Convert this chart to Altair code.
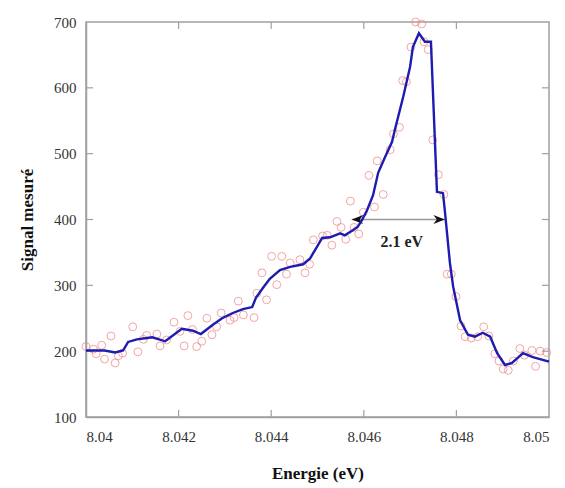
import altair as alt
import pandas as pd

# measured points (open circles)
energie_mes = [8.04000, 8.04016, 8.04022, 8.04034, 8.04040, 8.04054, 8.04063, 8.04070, 8.04079, 8.04101,
               8.04112, 8.04124, 8.04131, 8.04153, 8.04160, 8.04174, 8.04190, 8.04203, 8.04212, 8.04220,
               8.04230, 8.04239, 8.04250, 8.04261, 8.04272, 8.04282, 8.04292, 8.04311, 8.04320, 8.04329,
               8.04340, 8.04363, 8.04369, 8.04380, 8.04390, 8.04401, 8.04412, 8.04423, 8.04433, 8.04441,
               8.04462, 8.04473, 8.04483, 8.04491, 8.04511, 8.04521, 8.04531, 8.04542, 8.04551, 8.04561,
               8.04571, 8.04579, 8.04589, 8.04599, 8.04611, 8.04623, 8.04629, 8.04642, 8.04657, 8.04664,
               8.04677, 8.04684, 8.04692, 8.04702, 8.04712, 8.04725, 8.04730, 8.04739, 8.04749, 8.04761,
               8.04773, 8.04780, 8.04789, 8.04799, 8.04810, 8.04819, 8.04832, 8.04846, 8.04859, 8.04870,
               8.04883, 8.04892, 8.04901, 8.04912, 8.04923, 8.04937, 8.04947, 8.04963, 8.04971, 8.04981,
               8.04995]
signal_mes = [207, 203, 196, 209, 188, 223, 182, 193, 197, 237,
              199, 218, 224, 226, 208, 217, 244, 230, 208, 254,
              233, 207, 215, 250, 225, 237, 258, 247, 251, 276,
              255, 251, 288, 319, 278, 344, 301, 344, 317, 334,
              339, 319, 332, 369, 375, 376, 361, 397, 388, 370,
              428, 388, 378, 411, 467, 419, 489, 438, 506, 530,
              540, 611, 609, 662, 700, 697, 670, 658, 521, 468,
              438, 317, 317, 283, 238, 222, 220, 222, 237, 223,
              196, 185, 173, 171, 185, 204, 194, 201, 177, 200,
              198]

# fitted curve (blue line)
energie_fit = [8.04000, 8.04040, 8.04063, 8.04080, 8.04091, 8.04110, 8.04143, 8.04171, 8.04207, 8.04231,
               8.04248, 8.04274, 8.04294, 8.04317, 8.04339, 8.04359, 8.04367, 8.04382, 8.04397, 8.04419,
               8.04441, 8.04469, 8.04484, 8.04501, 8.04510, 8.04527, 8.04549, 8.04559, 8.04577, 8.04587,
               8.04596, 8.04607, 8.04620, 8.04631, 8.04646, 8.04661, 8.04667, 8.04685, 8.04700, 8.04706,
               8.04719, 8.04732, 8.04745, 8.04758, 8.04771, 8.04775, 8.04786, 8.04793, 8.04808, 8.04825,
               8.04840, 8.04857, 8.04873, 8.04888, 8.04905, 8.04920, 8.04944, 8.04965, 8.05000]
signal_fit = [201, 201, 198, 201, 214, 218, 221, 215, 234, 231,
              226, 240, 250, 258, 264, 267, 281, 296, 310, 323,
              328, 332, 341, 361, 372, 373, 379, 376, 384, 389,
              399, 414, 437, 471, 495, 518, 536, 586, 632, 662,
              683, 670, 670, 442, 440, 414, 334, 298, 247, 225,
              222, 228, 222, 197, 179, 182, 197, 191, 184]

x_ticks = [8.04, 8.042, 8.044, 8.046, 8.048, 8.05]
y_ticks = [100, 200, 300, 400, 500, 600, 700]
x_inner = [8.042, 8.044, 8.046, 8.048]
y_inner = [200, 300, 400, 500, 600]

fwhm_left, fwhm_right, fwhm_level = 8.04574, 8.04775, 400
fwhm_label = "2.1 eV"
label_x, label_y = 8.04682, 366

W, H = 463, 395
FONT = "Liberation Serif"
AX = "#a0a0a0"

xs = alt.Scale(domain=[8.04, 8.05], nice=False, zero=False)
ys = alt.Scale(domain=[100, 700], nice=False, zero=False)

mes = pd.DataFrame({"E": energie_mes, "S": signal_mes})
fit = pd.DataFrame({"E": energie_fit, "S": signal_fit})

xaxis = alt.Axis(values=x_ticks, format=".4~f", ticks=False, grid=False, domainColor=AX,
                 domainWidth=1.5, labelFont=FONT, labelFontSize=15, labelColor="#333",
                 labelPadding=12, title="Energie (eV)", titleFont=FONT, titleFontSize=17,
                 titleFontWeight="bold", titleColor="#111", titleY=56, titleBaseline="middle")
yaxis = alt.Axis(values=y_ticks, ticks=False, grid=False, domainColor=AX, domainWidth=1.5,
                 labelFont=FONT, labelFontSize=15, labelColor="#333", labelPadding=10,
                 title="Signal mesuré", titleFont=FONT, titleFontSize=17, titleFontWeight="bold",
                 titleColor="#111", titleX=-59, titleY=H / 2, titleAngle=-90,
                 titleAlign="center", titleBaseline="middle")

points = alt.Chart(mes).mark_point(shape="circle", filled=False, color="#ee8080",
                                   size=62, strokeWidth=1).encode(
    x=alt.X("E:Q", scale=xs, axis=xaxis),
    y=alt.Y("S:Q", scale=ys, axis=yaxis),
)

line = alt.Chart(fit).mark_line(color="#1c1cb0", strokeWidth=2.4).encode(
    x=alt.X("E:Q", scale=xs), y=alt.Y("S:Q", scale=ys)
)

xt = pd.DataFrame({"E": x_inner})
yt = pd.DataFrame({"S": y_inner})
tick_bot = alt.Chart(xt).mark_rule(color=AX, strokeWidth=1.2).encode(
    x=alt.X("E:Q", scale=xs), y=alt.value(H), y2=alt.value(H - 7))
tick_top = alt.Chart(xt).mark_rule(color=AX, strokeWidth=1.2).encode(
    x=alt.X("E:Q", scale=xs), y=alt.value(0), y2=alt.value(7))
tick_left = alt.Chart(yt).mark_rule(color=AX, strokeWidth=1.2).encode(
    y=alt.Y("S:Q", scale=ys), x=alt.value(0), x2=alt.value(7))
tick_right = alt.Chart(yt).mark_rule(color=AX, strokeWidth=1.2).encode(
    y=alt.Y("S:Q", scale=ys), x=alt.value(W), x2=alt.value(W - 7))

arrow_df = pd.DataFrame({"E": [fwhm_left], "E2": [fwhm_right], "S": [fwhm_level]})
arrow = alt.Chart(arrow_df).mark_rule(color="#999999", strokeWidth=1.3).encode(
    x=alt.X("E:Q", scale=xs), x2="E2:Q", y=alt.Y("S:Q", scale=ys))
head_l = alt.Chart(pd.DataFrame({"E": [fwhm_left], "S": [fwhm_level]})).mark_point(
    shape="M0,0 L2,-0.8 L1.4,0 L2,0.8 Z", filled=True, color="#111", size=130, opacity=1).encode(
    x=alt.X("E:Q", scale=xs), y=alt.Y("S:Q", scale=ys))
head_r = alt.Chart(pd.DataFrame({"E": [fwhm_right], "S": [fwhm_level]})).mark_point(
    shape="M0,0 L-2,-0.8 L-1.4,0 L-2,0.8 Z", filled=True, color="#111", size=130, opacity=1).encode(
    x=alt.X("E:Q", scale=xs), y=alt.Y("S:Q", scale=ys))
label = alt.Chart(pd.DataFrame({"E": [label_x], "S": [label_y], "t": [fwhm_label]})).mark_text(
    font=FONT, fontSize=16, fontWeight="bold", color="#222").encode(
    x=alt.X("E:Q", scale=xs), y=alt.Y("S:Q", scale=ys), text="t:N")

chart = alt.layer(points, tick_bot, tick_top, tick_left, tick_right, arrow, head_l, head_r,
                  line, label).properties(
    width=W, height=H,
    autosize=alt.AutoSizeParams(type="none"),
    padding={"left": 78, "top": 14, "right": 8, "bottom": 68},
    background="white",
).configure_view(stroke=AX, strokeWidth=1.5)

chart.save("out.html", embed_options={"renderer": "svg", "actions": False})
